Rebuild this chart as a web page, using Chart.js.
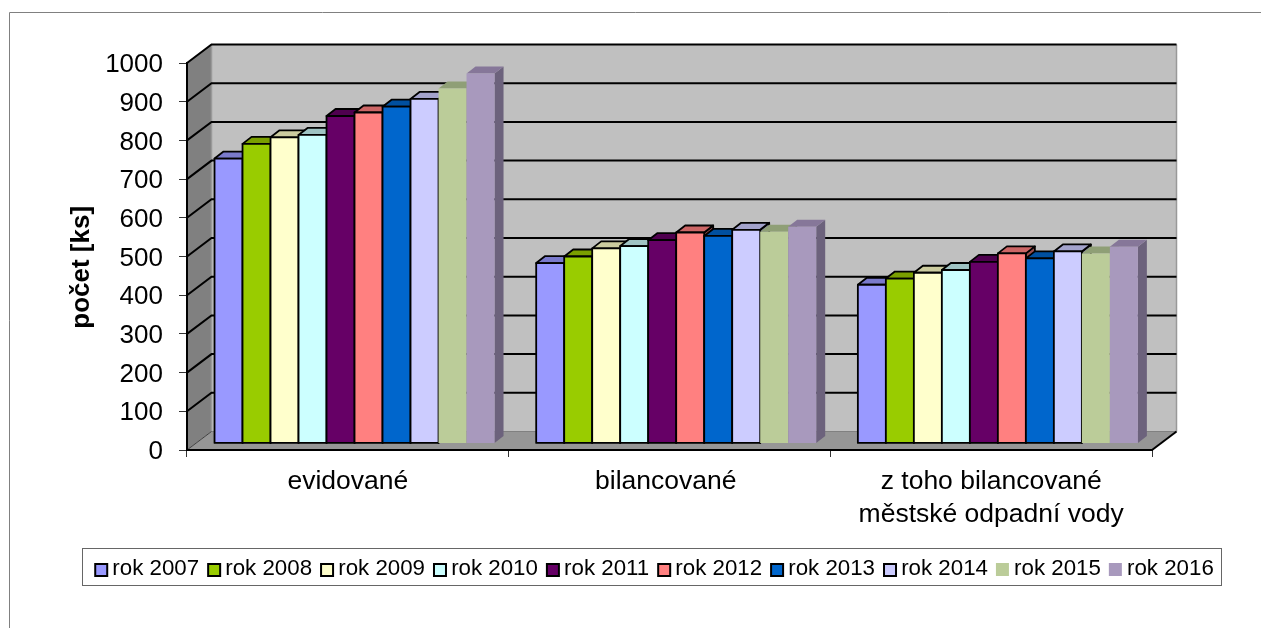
<!DOCTYPE html>
<html lang="cs">
<head>
<meta charset="utf-8">
<title>počet [ks]</title>
<script src="https://cdn.jsdelivr.net/npm/chart.js@4"></script>
<style>
  html, body { margin: 0; padding: 0; background: #fff; overflow: hidden; }
  canvas { display: block; }
</style>
</head>
<body>
<canvas id="graf" width="1261" height="628"></canvas>
<script>
const kategorie = ["evidované", "bilancované ", ["z toho bilancované", "městské odpadní vody"]];
const rok2007 = [736, 466, 410];
const rok2008 = [774, 483, 426];
const rok2009 = [791, 504, 441];
const rok2010 = [797, 510, 448];
const rok2011 = [846, 525, 469];
const rok2012 = [855, 545, 491];
const rok2013 = [870, 536, 478];
const rok2014 = [890, 552, 496];
const rok2015 = [917, 547, 491];
const rok2016 = [956, 560, 508];

const nazvy = ["rok 2007", "rok 2008", "rok 2009", "rok 2010", "rok 2011", "rok 2012", "rok 2013", "rok 2014", "rok 2015", "rok 2016"];
const hodnoty = [rok2007, rok2008, rok2009, rok2010, rok2011, rok2012, rok2013, rok2014, rok2015, rok2016];
const barvy = ["#9999FF", "#99CC00", "#FFFFCC", "#CCFFFF", "#660066", "#FF8080", "#0066CC", "#CCCCFF", "#BBCC99", "#A899BD"];
const barvyHorni = ["#7A7ACC", "#7A9F00", "#CCCC9F", "#9FC3C3", "#4F004F", "#CC6666", "#0050A0", "#A3A3CC", "#8F9F76", "#867799"];
const barvyBocni = ["#5C5C99", "#5C7A00", "#99997A", "#7A9999", "#3D003D", "#994D4D", "#003D7A", "#7A7A99", "#70795C", "#6C627C"];
// poslední dvě řady se kreslí bez černého obrysu
const obrys = [true, true, true, true, true, true, true, true, false, false];

const hloubkaSteny = { x: 24.5, y: 18.5 };
const hloubkaSloupce = { x: 9, y: 7 };
const posunSloupcu = { x: 6.7, y: -6.6 };
const ramecekLegendy = { left: 82.5, top: 548.5, right: 1221.5, bottom: 585.5 };

function cesta(ctx, body) {
  ctx.beginPath();
  body.forEach((b, i) => i ? ctx.lineTo(b[0], b[1]) : ctx.moveTo(b[0], b[1]));
  ctx.closePath();
}

// steny a podlaha za sloupci
const steny = {
  id: "steny",
  beforeDraw(chart) {
    const { ctx, chartArea: a, scales } = chart;
    const dx = hloubkaSteny.x, dy = hloubkaSteny.y;
    ctx.save();

    // vnější rámeček
    ctx.strokeStyle = "#808080";
    ctx.lineWidth = 1;
    ctx.beginPath();
    ctx.moveTo(9.5, 628);
    ctx.lineTo(9.5, 12.5);
    ctx.lineTo(1261, 12.5);
    ctx.stroke();

    ctx.fillStyle = "#C0C0C0";
    ctx.fillRect(a.left + dx, a.top - dy, a.width, a.height);
    ctx.fillStyle = "#808080";
    cesta(ctx, [[a.left, a.top], [a.left + dx, a.top - dy], [a.left + dx, a.bottom - dy], [a.left, a.bottom]]);
    ctx.fill();
    ctx.fillStyle = "#969696";
    cesta(ctx, [[a.left, a.bottom], [a.left + dx, a.bottom - dy], [a.right + dx, a.bottom - dy], [a.right, a.bottom]]);
    ctx.fill();

    // šedé hrany stěn
    ctx.strokeStyle = "#999999";
    ctx.lineWidth = 1.5;
    ctx.beginPath();
    ctx.moveTo(a.left + dx, a.top - dy);
    ctx.lineTo(a.left + dx, a.bottom - dy);
    ctx.moveTo(a.right + dx, a.top - dy);
    ctx.lineTo(a.right + dx, a.bottom - dy);
    ctx.stroke();
    ctx.strokeStyle = "#808080";
    ctx.lineWidth = 1;
    ctx.beginPath();
    ctx.moveTo(a.left + dx, a.bottom - dy);
    ctx.lineTo(a.right + dx, a.bottom - dy);
    ctx.stroke();
    ctx.strokeStyle = "#404040";
    ctx.beginPath();
    ctx.moveTo(a.left, a.bottom);
    ctx.lineTo(a.left + dx, a.bottom - dy);
    ctx.stroke();

    // mřížka po levé stěně a po zadní stěně
    ctx.strokeStyle = "#000";
    ctx.lineWidth = 2;
    scales.y.ticks.forEach(t => {
      if (t.value === 0) return;
      const y = scales.y.getPixelForValue(t.value);
      ctx.beginPath();
      ctx.moveTo(a.left, y);
      ctx.lineTo(a.left + dx, y - dy);
      ctx.lineTo(a.right + dx, y - dy);
      ctx.stroke();
    });

    // přední pravá hrana podlahy
    ctx.beginPath();
    ctx.moveTo(a.right, a.bottom);
    ctx.lineTo(a.right + dx, a.bottom - dy);
    ctx.stroke();
    ctx.restore();
  }
};

// sloupce s bočnicí a horní plochou, kreslené zleva doprava
const sloupce3d = {
  id: "sloupce3d",
  beforeDatasetsDraw(chart) {
    const ctx = chart.ctx;
    const dx = hloubkaSloupce.x, dy = hloubkaSloupce.y;
    ctx.save();
    ctx.translate(posunSloupcu.x, posunSloupcu.y);
    ctx.lineJoin = "round";
    ctx.lineWidth = 1.8;
    ctx.strokeStyle = "#000";
    chart.data.datasets.forEach((d, i) => {
      chart.getDatasetMeta(i).data.forEach(el => {
        const l = el.x - el.width / 2, r = el.x + el.width / 2, y = el.y, b = el.base;
        ctx.fillStyle = barvyBocni[i];
        cesta(ctx, [[r, y], [r + dx, y - dy], [r + dx, b - dy], [r, b]]);
        ctx.fill();
        if (obrys[i]) ctx.stroke();
        ctx.fillStyle = barvyHorni[i];
        cesta(ctx, [[l, y], [l + dx, y - dy], [r + dx, y - dy], [r, y]]);
        ctx.fill();
        if (obrys[i]) ctx.stroke();
        el.draw(ctx);
        if (obrys[i]) ctx.strokeRect(l, y, r - l, b - y);
      });
    });
    ctx.restore();
    return false;
  }
};

// rámeček a značky legendy
const legenda = {
  id: "legenda",
  afterLayout(chart) {
    const lg = chart.legend;
    lg.left = ramecekLegendy.left + 2;
    lg.right = ramecekLegendy.right + 2;
    lg.width = lg.right - lg.left;
    lg.top = ramecekLegendy.top + 1.5;
    lg.bottom = ramecekLegendy.bottom;
  },
  afterDraw(chart) {
    const ctx = chart.ctx, f = ramecekLegendy;
    ctx.save();
    ctx.strokeStyle = "#666";
    ctx.lineWidth = 1;
    ctx.strokeRect(f.left, f.top, f.right - f.left, f.bottom - f.top);
    chart.legend.legendHitBoxes.forEach((h, i) => {
      const y = Math.round(h.top + h.height / 2 - 6.5);
      ctx.fillStyle = barvy[i];
      if (obrys[i]) {
        ctx.fillRect(h.left + 1, y + 1, 12, 12);
        ctx.strokeStyle = "#000";
        ctx.lineWidth = 2;
        ctx.strokeRect(h.left + 1, y + 1, 12, 12);
      } else {
        ctx.fillRect(h.left, y, 13, 13);
      }
    });
    ctx.restore();
  }
};

new Chart(document.getElementById("graf"), {
  type: "bar",
  data: {
    labels: kategorie,
    datasets: nazvy.map((nazev, i) => ({
      label: nazev,
      data: hodnoty[i],
      backgroundColor: barvy[i],
      borderWidth: 0,
      categoryPercentage: 0.8705,
      barPercentage: 1
    }))
  },
  options: {
    responsive: false,
    animation: false,
    events: [],
    layout: { padding: { top: 63, left: 0, right: 109, bottom: 0 } },
    plugins: {
      tooltip: { enabled: false },
      legend: {
        position: "bottom",
        labels: {
          boxWidth: 7,
          padding: 8,
          color: "#000",
          font: { size: 22.3, family: "'Liberation Sans', Arial, sans-serif" },
          generateLabels: chart => chart.data.datasets.map((d, i) => ({
            text: d.label,
            fillStyle: "rgba(0,0,0,0)",
            strokeStyle: "rgba(0,0,0,0)",
            lineWidth: 0,
            hidden: false,
            datasetIndex: i
          }))
        }
      }
    },
    scales: {
      x: {
        afterFit(scale) { scale.height = 628 - 450 - scale.chart.legend.height; },
        border: { display: true, color: "#000", width: 2 },
        grid: { drawOnChartArea: false, drawTicks: true, tickLength: 7, color: "#333", lineWidth: 1 },
        ticks: {
          padding: 8,
          color: "#000",
          maxRotation: 0,
          autoSkip: false,
          font: { size: 26.5, lineHeight: 1.24, family: "'Liberation Sans', Arial, sans-serif" }
        }
      },
      y: {
        min: 0,
        max: 1000,
        afterFit(scale) { scale.width = 187; },
        title: {
          display: true,
          text: "počet [ks]   ",
          color: "#000",
          padding: { top: 66, bottom: 0 },
          font: { size: 26, weight: "bold", family: "'Liberation Sans', Arial, sans-serif" }
        },
        border: { display: true, color: "#000", width: 2 },
        grid: { drawOnChartArea: false, drawTicks: true, tickLength: 8, color: "#333", lineWidth: 1 },
        ticks: {
          stepSize: 100,
          padding: 16,
          labelOffset: 2,
          color: "#000",
          callback: v => String(v),
          font: { size: 26, family: "'Liberation Sans', Arial, sans-serif" }
        }
      }
    }
  },
  plugins: [steny, sloupce3d, legenda]
});
</script>
</body>
</html>
